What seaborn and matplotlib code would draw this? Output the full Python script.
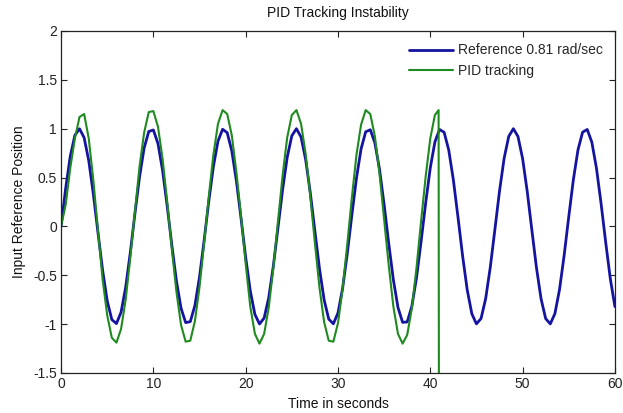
import numpy as np
import pandas as pd
import matplotlib
matplotlib.use("Agg")
import matplotlib.pyplot as plt
import seaborn as sns

# ---- data ----
ref_time = [i * 0.5 for i in range(121)]
ref_values = [
    0.000, 0.390, 0.719, 0.933, 0.999, 0.908, 0.673, 0.330, -0.064, -0.448,
    -0.762, -0.954, -0.995, -0.879, -0.623, -0.269, 0.128, 0.505, 0.802, 0.971,
    0.987, 0.847, 0.572, 0.207, -0.192, -0.559, -0.838, -0.985, -0.975, -0.810,
    -0.518, -0.143, 0.254, 0.611, 0.872, 0.994, 0.959, 0.771, 0.462, 0.080,
    -0.316, -0.661, -0.901, -0.999, -0.938, -0.729, -0.404, -0.015, 0.376, 0.707,
    0.927, 1.000, 0.914, 0.683, 0.345, -0.049, -0.435, -0.752, -0.949, -0.997,
    -0.886, -0.635, -0.284, 0.113, 0.492, 0.792, 0.968, 0.989, 0.854, 0.584,
    0.222, -0.176, -0.546, -0.830, -0.982, -0.978, -0.819, -0.531, -0.158, 0.239,
    0.599, 0.864, 0.992, 0.963, 0.781, 0.476, 0.095, -0.301, -0.649, -0.894,
    -0.998, -0.943, -0.739, -0.418, -0.031, 0.362, 0.697, 0.921, 1.000, 0.920,
    0.695, 0.359, -0.034, -0.421, -0.741, -0.944, -0.998, -0.893, -0.647, -0.298,
    0.098, 0.478, 0.783, 0.964, 0.992, 0.862, 0.597, 0.236, -0.161, -0.534,
    -0.821,
]

pid_time = [i * 0.5 for i in range(82)] + [40.9, 40.95]
pid_values = [
    0.00, 0.22, 0.60, 0.90, 1.12, 1.15, 0.90, 0.47, -0.04, -0.54,
    -0.91, -1.14, -1.19, -1.05, -0.75, -0.32, 0.15, 0.61, 0.96, 1.17,
    1.18, 1.02, 0.69, 0.25, -0.23, -0.67, -1.01, -1.18, -1.17, -0.97,
    -0.62, -0.17, 0.30, 0.73, 1.05, 1.19, 1.15, 0.93, 0.55, 0.10,
    -0.38, -0.82, -1.10, -1.20, -1.10, -0.83, -0.42, 0.05, 0.52, 0.91,
    1.14, 1.19, 1.05, 0.74, 0.31, -0.17, -0.63, -0.98, -1.17, -1.18,
    -0.99, -0.64, -0.19, 0.29, 0.73, 1.04, 1.19, 1.15, 0.92, 0.54,
    0.07, -0.40, -0.82, -1.10, -1.20, -1.11, -0.84, -0.43, 0.05, 0.51,
    0.90, 1.14, 1.19, -3.00,
]

series_labels = ["Reference 0.81 rad/sec", "PID tracking"]
x_ticks = [0, 10, 20, 30, 40, 50, 60]
y_ticks = [-1.5, -1, -0.5, 0, 0.5, 1, 1.5, 2]
y_tick_labels = ["-1.5", "-1", "-0.5", "0", "0.5", "1", "1.5", "2"]

# ---- plotting ----
sns.set_theme(style="ticks")
plt.rcParams["font.family"] = ["Liberation Sans", "DejaVu Sans"]

ref_df = pd.DataFrame({"t": ref_time, "y": ref_values})
pid_df = pd.DataFrame({"t": pid_time, "y": pid_values})

fig = plt.figure(figsize=(6.23, 4.13), dpi=100)
ax = fig.add_axes([0.098, 0.097, 0.889, 0.828])

sns.lineplot(data=ref_df, x="t", y="y", ax=ax, color="#1414a0", linewidth=2.0,
             estimator=None, sort=False, label=series_labels[0])
sns.lineplot(data=pid_df, x="t", y="y", ax=ax, color="#1f8a1f", linewidth=1.5,
             estimator=None, sort=False, label=series_labels[1])

ax.set_xlim(0, 60)
ax.set_ylim(-1.5, 2)
ax.set_xticks(x_ticks)
ax.set_yticks(y_ticks)
ax.set_yticklabels(y_tick_labels)
ax.tick_params(direction="in", top=True, right=True, labelsize=10,
               length=4, width=0.8, colors="#222222", pad=3)
for s in ax.spines.values():
    s.set_visible(True)
    s.set_linewidth(0.9)
    s.set_color("#222222")

ax.set_title("PID Tracking Instability", fontsize=10, pad=10, color="#111111")
ax.set_xlabel("Time in seconds", fontsize=10, labelpad=4, color="#111111")
ax.set_ylabel("Input Reference Position", fontsize=10, labelpad=5, color="#111111")

leg = ax.legend(loc="upper right", frameon=False, fontsize=10,
                handlelength=3.2, handletextpad=0.3, borderaxespad=0.5,
                labelspacing=0.45)

fig.savefig("out.png", dpi=100, facecolor="white")
